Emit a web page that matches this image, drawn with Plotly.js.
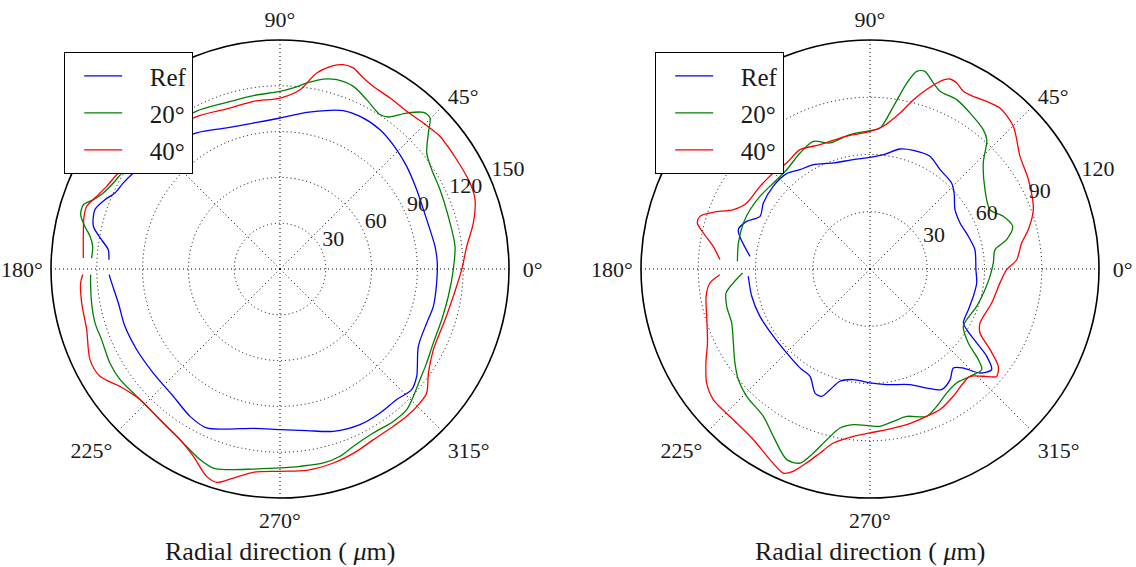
<!DOCTYPE html>
<html>
<head>
<meta charset="utf-8">
<script src="https://cdn.plot.ly/plotly-3.0.1.min.js"></script>
<style>html,body{margin:0;padding:0;background:#fff;}#chart{width:1136px;height:567px;}</style>
</head>
<body>
<div id="chart"></div>
<script>
// ---------- data (angle in degrees, radius in µm) ----------
const seriesNames = ["Ref", "20°", "40°"];
const seriesColors = ["#0000ff", "#008000", "#ff0000"];
const angleTicks = [0, 45, 90, 135, 180, 225, 270, 315];
const angleTickText = ["\u00a00°", "45°", "90°", "135°", "180°", "225°", "270°", "315°"];
const leftRadialTicks = [30, 60, 90, 120, 150];
const rightRadialTicks = [30, 60, 90, 120];
const leftRMax = 150, rightRMax = 120;

// Left panel
const leftRefTheta = [181.9,184.8,191.9,200.3,209.4,219.4,230.0,238.6,245.2,251.6,260.5,270,279.4,288.2,297.2,304.8,311.8,317.5,321.9,330.8,339.8,346.3,354.9,362.2,368.3,378.6,390.1,399,405.6,414.3,422.3,428.2,432.5,440.3,450,460.4,470.7,481.5,495,506.8,511.2,515.3,518.4,522.2,527.1,530.7,533.6,536.9];
const leftRefR     = [112,110.6,108.2,108.3,107.7,107.4,108.8,113.1,114.7,110.5,105.8,105.2,107.3,111.9,114.6,114.8,114.7,117,113.8,103.8,102.4,103.4,103,103.1,102.6,101.4,103.5,106.8,109.3,112.3,112.9,111.7,109,104.1,98.9,97.2,98.8,104.5,110,114.8,117.1,119,123.3,127.3,125.4,118.4,113.2,112.2];

const left20Theta = [181.7,184.2,190.2,196.3,201.6,208.9,214.7,223.0,231.5,239.6,247.2,251.5,255.1,262.4,270,275.8,282.6,287.8,292.5,299.6,306.6,312,316.3,321.7,327.3,334.2,342.6,350.8,359.8,367.4,377.4,386.4,393.2,398.3,402.5,405.2,407.5,410.9,414.5,417.1,422.9,428.1,433.3,437.2,441.8,445.8,450,458.7,467.7,478,495,508.8,512.7,516.7,519.6,521.9,524.8,527.7,530.2,533.1,536.7];
const left20R     = [124.1,124.4,125.4,126.2,125.7,127.3,127.4,125.4,126.2,129.6,135.4,137.5,136,132.2,130.3,129.9,130.2,128.8,125.7,123.6,124.4,124,120.8,116.9,114.1,111.5,111,111.7,113.5,115.6,115.5,117,118.8,122.5,131.8,139.4,139.1,131.6,122.3,120.5,124.6,128.9,129.5,127.6,123.1,118.9,116.4,114.9,114.6,117,119.5,121.3,122.8,126,130.4,135.5,135.3,130.8,126.3,123.6,123.6];

const left40Theta = [181.6,184,189.7,197.4,205.5,210.8,216.3,223,231.5,239.6,245.2,250.5,253.5,257.4,262.5,270,277.5,285.4,292.8,298.7,305.8,310.7,316.3,319.8,325,332.2,337,342.9,351,359.8,366.9,373.4,379.6,384.4,391.8,399.7,405.5,411.2,417.2,422.9,426.4,430,432.8,435.3,439.4,443.6,450,459,468.4,478.9,495,510,514.5,518.4,522,525,530.6,536.8];
const left40R     = [129.3,130.9,131.8,132.7,137.9,137.3,130,125.4,126.2,129.5,135.2,144.1,145.8,140.3,134.3,132.5,133,131.8,129.6,127.4,127,127.3,126.9,125.8,118.7,113.5,112.7,113.1,114.9,119,123.2,130.2,135.6,136.6,136.1,136.1,134,132.5,133.2,134.3,136.5,140.2,140.1,137.7,130.6,118.2,112,111.2,110.5,113.8,118,123.5,125.8,129.2,133.1,132.9,130.6,129];

// Right panel
const rightRefTheta = [183.4,193,203.3,214.9,225.2,234.7,240.8,246.1,249.2,251.7,255,261.4,270,278.2,289.1,295.5,300.7,305.9,310.1,313.3,316.6,320.4,323.2,325.3,327.9,330,337.5,345.2,352.5,359.6,370.4,378.4,387.1,394.9,402.1,406.5,414.8,422,429.9,436,443.3,450,458.7,469.1,478.5,485.2,491.2,499.5,508.3,514.4,518.9,523.4,534];
const rightRefR     = [63.9,63.6,62.8,61.7,62,63.5,64.4,71.1,71.4,66.6,60.9,58.6,59.7,61.2,64.1,69.1,73.5,71.6,67.8,71.3,79.3,82.7,76.4,68,59.8,56.5,55.8,56,56.4,55.5,55.9,54.3,53,54.3,59.4,62.1,63.7,66.9,66.2,64.8,60.3,58.5,58,58.8,62.2,63.7,66.4,66.7,65.7,63.9,69.3,72,63.2];

const right20Theta = [181.8,185.8,189.5,194.6,201.3,208.4,214.8,220,225.9,234.1,240,246.4,250.2,252.9,255.8,259.3,263.9,273.6,278.7,284,291,295.9,301.7,307.2,313,318,320.1,323,328.4,332.3,340.7,349.8,356.5,362.8,368.8,372.1,376.6,381.6,386.3,394.6,403.1,407.9,410.9,417.3,422.9,428.5,431.2,434.5,436.7,438.8,441.8,445.9,450,458.5,467.6,473.9,481.1,490,498.3,506.6,513.7,520,528.8,536.7];
const right20R     = [66.8,72,76.5,77.6,77.8,81.4,86.2,90.1,92.9,95.3,101.3,109,108.1,100.9,92.3,84.8,82,82.6,80.8,79.6,82.7,80,76.4,75,76.9,78.8,74,64.5,57.4,57.2,59.2,61.2,63,64.7,66.3,73.2,78,75.1,70.1,73.2,81.3,91.3,94.1,97.1,99.7,100.1,103,107.5,106.4,99.3,86.1,74.1,72.5,71.2,69.3,73.2,71,67.9,67.8,69.1,70.1,70.6,70.3,69.6];

const right40Theta = [182.2,185,189.5,196.2,204.5,209.8,214.9,219.8,227.8,235.6,242.3,247,249.2,251.9,254.8,258.1,264.3,270,275.9,283.3,291,296.5,303.2,309.3,313,316.6,319.7,322.8,326.1,329.8,333.9,344.4,353.9,359.7,363.6,369.7,374,380,389.4,396.9,404.9,411.1,415.2,419.1,422.3,425,427.2,429.5,432.5,435.6,439.1,444.7,450,457.1,462.9,471.9,480.4,488.2,495.2,503.1,511.8,516.5,520.1,522.8,525.1,527.8,531.8,536.4];
const right40R     = [78.7,84.2,87.1,89.1,93.6,99.1,104.4,106.9,106.6,108.3,112.8,116.2,113.4,106.9,99.9,93.2,88.1,85.9,84.6,83.8,82.7,82.3,79.7,77.2,76.9,81.8,87,84.4,75.8,66.7,64.2,66.2,68.5,71.6,77,80.6,85.5,91.1,95.3,98.3,106,108.4,107,105.4,105.2,107.5,108,105,98.6,91.6,83.2,75.1,72.1,70.9,70.4,70.2,72.5,70.7,71.4,72.1,73.3,78.1,87.3,93.3,93.6,89.3,83,78.8];

// ---------- traces ----------
const FONT = "Liberation Serif";
const TXT = "#1a1a1a";
const PAD = "\u2002\u2009\u2009";
function tr(theta, r, i, subplot, legend) {
  return {
    type: "scatterpolar", mode: "lines",
    theta: theta, r: r, name: PAD + seriesNames[i],
    line: {color: seriesColors[i], width: 1.3, shape: "spline", smoothing: 0.8},
    subplot: subplot, legend: legend, legendgroup: subplot + i,
    hoverinfo: "skip"
  };
}
// radial tick labels: placed on the 22.5° ray, text to the upper right
function radialLabels(ticks, subplot) {
  return {
    type: "scatterpolar", mode: "text", subplot: subplot, showlegend: false,
    r: ticks, theta: ticks.map(() => 22.5), text: ticks.map(String),
    textposition: "top right", cliponaxis: false, hoverinfo: "skip",
    textfont: {family: FONT, size: 22, color: TXT}
  };
}
const data = [
  tr(leftRefTheta, leftRefR, 0, "polar", "legend"),
  tr(left20Theta, left20R, 1, "polar", "legend"),
  tr(left40Theta, left40R, 2, "polar", "legend"),
  tr(rightRefTheta, rightRefR, 0, "polar2", "legend2"),
  tr(right20Theta, right20R, 1, "polar2", "legend2"),
  tr(right40Theta, right40R, 2, "polar2", "legend2"),
  radialLabels(leftRadialTicks, "polar"),
  radialLabels(rightRadialTicks, "polar2")
];

function polarLayout(xdom, rmax, rticks) {
  return {
    domain: {x: xdom, y: [69/567, 527/567]},
    bgcolor: "#ffffff",
    radialaxis: {
      range: [0, rmax], tickvals: rticks, showticklabels: false,
      angle: 22.5, showline: false, ticks: "",
      gridcolor: "#000000", gridwidth: 1, griddash: "1px,3px"
    },
    angularaxis: {
      tickvals: angleTicks, ticktext: angleTickText,
      showline: true, linecolor: "#000000", linewidth: 1.6,
      ticks: "outside", ticklen: 3, tickcolor: "rgba(0,0,0,0)",
      gridcolor: "#000000", gridwidth: 1, griddash: "1px,3px",
      tickfont: {family: FONT, size: 22, color: TXT},
      rotation: 0, direction: "counterclockwise"
    }
  };
}
function legendLayout(x) {
  return {
    x: x, y: 1 - 52/567, xanchor: "left", yanchor: "top",
    bgcolor: "#ffffff", bordercolor: "#000000", borderwidth: 1.2,
    font: {family: FONT, size: 25, color: TXT},
    tracegroupgap: 1.5, itemwidth: 38, indentation: 14
  };
}
const layout = {
  width: 1136, height: 567,
  margin: {l: 0, r: 0, t: 0, b: 0},
  paper_bgcolor: "#ffffff",
  font: {family: FONT, size: 22, color: TXT},
  showlegend: true,
  polar: polarLayout([51/1136, 509/1136], leftRMax, leftRadialTicks),
  polar2: polarLayout([641/1136, 1099/1136], rightRMax, rightRadialTicks),
  legend: legendLayout(64/1136),
  legend2: legendLayout(655/1136),
  annotations: [
    {text: "Radial direction ( <i>μ</i>m)", x: 280/1136, y: 1 - 551/567, xref: "paper", yref: "paper",
     xanchor: "center", yanchor: "middle", showarrow: false, font: {family: FONT, size: 26, color: TXT}},
    {text: "Radial direction ( <i>μ</i>m)", x: 870/1136, y: 1 - 551/567, xref: "paper", yref: "paper",
     xanchor: "center", yanchor: "middle", showarrow: false, font: {family: FONT, size: 26, color: TXT}}
  ]
};
Plotly.newPlot("chart", data, layout, {staticPlot: true});
</script>
</body>
</html>
